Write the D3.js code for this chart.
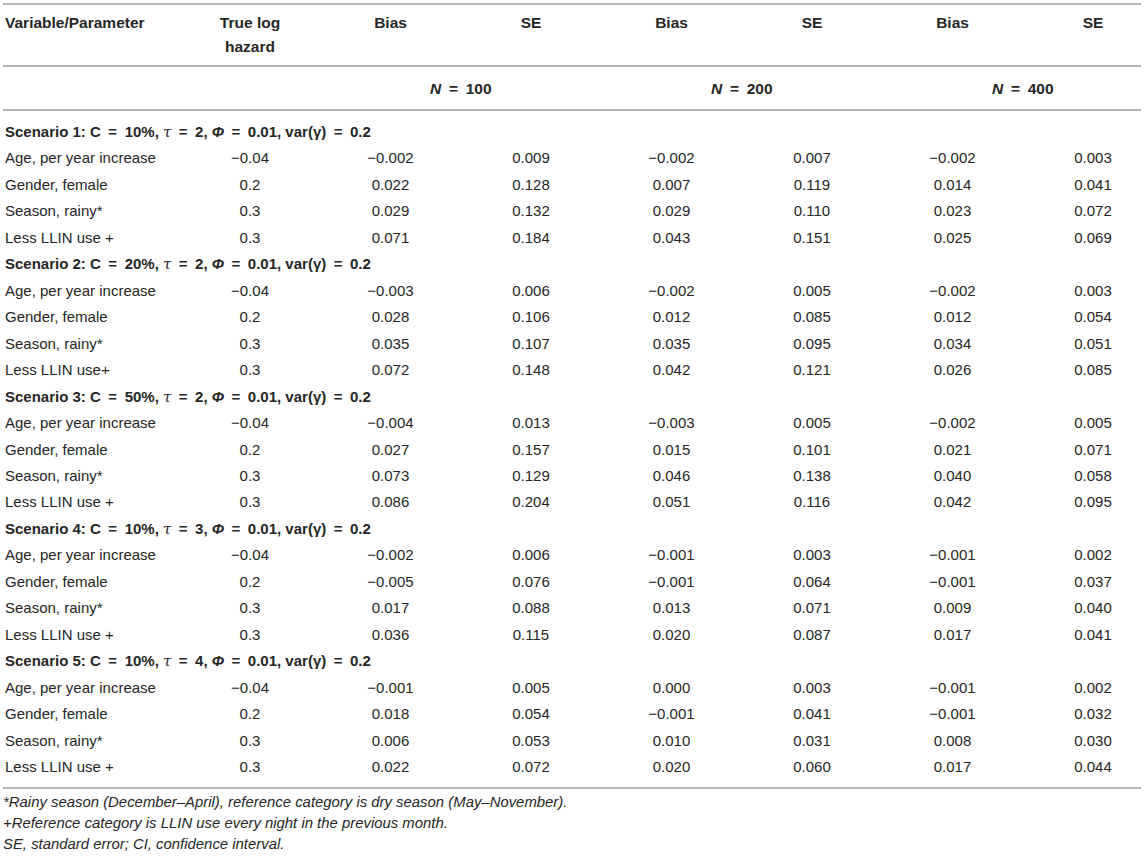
<!DOCTYPE html>
<html>
<head>
<meta charset="utf-8">
<script src="https://cdn.jsdelivr.net/npm/d3@7"></script>
<style>
  body { margin: 0; background: #fff; }
  svg text { font-family: "Liberation Sans", Arial, sans-serif; fill: #262626; }
</style>
</head>
<body>
<div id="table"></div>
<script>
// table data
const columns = ["True log hazard", "Bias", "SE", "Bias", "SE", "Bias", "SE"];
const sampleSizes = [100, 200, 400];
const variables = ["Age, per year increase", "Gender, female", "Season, rainy*", "Less LLIN use +"];
const trueLogHazard = [-0.04, 0.2, 0.3, 0.3];
const censoring = [10, 20, 50, 10, 10];
const tau = [2, 2, 2, 3, 4];

const bias100 = [-0.002, 0.022, 0.029, 0.071, -0.003, 0.028, 0.035, 0.072, -0.004, 0.027, 0.073, 0.086,
                 -0.002, -0.005, 0.017, 0.036, -0.001, 0.018, 0.006, 0.022];
const se100 = [0.009, 0.128, 0.132, 0.184, 0.006, 0.106, 0.107, 0.148, 0.013, 0.157, 0.129, 0.204,
               0.006, 0.076, 0.088, 0.115, 0.005, 0.054, 0.053, 0.072];
const bias200 = [-0.002, 0.007, 0.029, 0.043, -0.002, 0.012, 0.035, 0.042, -0.003, 0.015, 0.046, 0.051,
                 -0.001, -0.001, 0.013, 0.020, 0.000, -0.001, 0.010, 0.020];
const se200 = [0.007, 0.119, 0.110, 0.151, 0.005, 0.085, 0.095, 0.121, 0.005, 0.101, 0.138, 0.116,
               0.003, 0.064, 0.071, 0.087, 0.003, 0.041, 0.031, 0.060];
const bias400 = [-0.002, 0.014, 0.023, 0.025, -0.002, 0.012, 0.034, 0.026, -0.002, 0.021, 0.040, 0.042,
                 -0.001, -0.001, 0.009, 0.017, -0.001, -0.001, 0.008, 0.017];
const se400 = [0.003, 0.041, 0.072, 0.069, 0.003, 0.054, 0.051, 0.085, 0.005, 0.071, 0.058, 0.095,
               0.002, 0.037, 0.040, 0.041, 0.002, 0.032, 0.030, 0.044];

const footnotes = [
  "*Rainy season (December\u2013April), reference category is dry season (May\u2013November).",
  "+Reference category is LLIN use every night in the previous month.",
  "SE, standard error; CI, confidence interval."
];

const W = 1145, H = 857;
const FS = 15;
const svg = d3.select("#table").append("svg").attr("width", W).attr("height", H);

// column centres
const x = d3.scalePoint().domain(d3.range(columns.length)).range([250, 1093]);
// body rows: 5 scenarios x (1 heading + 4 variables)
const nRows = censoring.length * (variables.length + 1);
const y = d3.scaleLinear().domain([0, nRows - 1]).range([132, 767]);

const lineColor = "#b5b5b5";
[4, 66, 110, 788].forEach(ly => {
  svg.append("line").attr("x1", 3).attr("x2", 1141).attr("y1", ly).attr("y2", ly)
    .attr("stroke", lineColor).attr("stroke-width", 1.8);
});

// header
svg.append("text").attr("x", 5).attr("y", 28).attr("font-size", 15.5).attr("font-weight", "bold")
  .text("Variable/Parameter");
columns.forEach((c, i) => {
  const t = svg.append("text").attr("x", x(i)).attr("y", 28).attr("text-anchor", "middle")
    .attr("font-size", 15.5).attr("font-weight", "bold");
  if (i === 0) {
    t.append("tspan").attr("x", x(i)).text("True log");
    t.append("tspan").attr("x", x(i)).attr("dy", 24).text("hazard");
  } else t.text(c);
});
const eq = "\u2002=\u2002";
sampleSizes.forEach((n, k) => {
  const t = svg.append("text").attr("x", (x(1 + 2 * k) + x(2 + 2 * k)) / 2).attr("y", 94)
    .attr("text-anchor", "middle").attr("font-size", 15.5).attr("font-weight", "bold");
  t.append("tspan").attr("font-style", "italic").text("N");
  t.append("tspan").text(eq + n);
});

// body
const fmt = d3.format(".3f");
const fmtTrue = d3.format("");
const valueCols = [bias100, se100, bias200, se200, bias400, se400];
censoring.forEach((c, s) => {
  const r0 = s * (variables.length + 1);
  const h = svg.append("text").attr("x", 5).attr("y", y(r0) + 5).attr("font-size", FS).attr("font-weight", "bold");
  h.append("tspan").text(`Scenario ${s + 1}: C${eq}${c}%, `);
  h.append("tspan").attr("font-style", "italic").attr("font-family", "DejaVu Serif, serif").attr("font-weight", "normal").text("\u03C4");
  h.append("tspan").text(`${eq}${tau[s]}, `);
  h.append("tspan").attr("font-style", "italic").text("\u03A6");
  h.append("tspan").text(`${eq}0.01, var(\u03B3)${eq}0.2`);

  variables.forEach((v, j) => {
    const r = r0 + 1 + j;
    const idx = s * variables.length + j;
    const ry = y(r) + 5;
    const label = (s === 1 && j === 3) ? "Less LLIN use+" : v;
    svg.append("text").attr("x", 5).attr("y", ry).attr("font-size", FS).text(label);
    svg.append("text").attr("x", x(0)).attr("y", ry).attr("text-anchor", "middle").attr("font-size", FS)
      .text(fmtTrue(trueLogHazard[j]));
    valueCols.forEach((col, k) => {
      svg.append("text").attr("x", x(k + 1)).attr("y", ry).attr("text-anchor", "middle").attr("font-size", FS)
        .text(fmt(col[idx]));
    });
  });
});

// footnotes
footnotes.forEach((f, i) => {
  svg.append("text").attr("x", 3).attr("y", 807 + i * 21).attr("font-size", 14.9)
    .attr("font-style", "italic").text(f);
});
</script>
</body>
</html>
